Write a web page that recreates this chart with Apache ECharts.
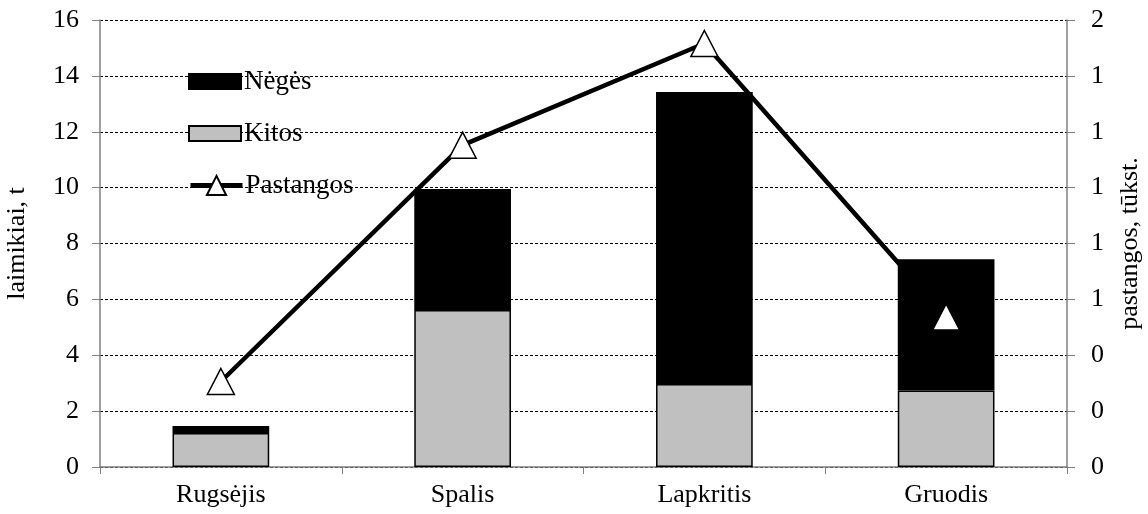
<!DOCTYPE html>
<html>
<head>
<meta charset="utf-8">
<script src="https://cdn.jsdelivr.net/npm/echarts@6/dist/echarts.min.js"></script>
<style>
  html, body { margin: 0; padding: 0; background: #ffffff; }
  #chart { width: 1148px; height: 514px; }
</style>
</head>
<body>
<div id="chart"></div>
<script>
// Months
const months = ['Rugsėjis', 'Spalis', 'Lapkritis', 'Gruodis'];
// Catch, tonnes (stacked: other species at the bottom, lampreys on top)
const kitos = [1.22, 5.62, 2.97, 2.74];
const neges = [0.25, 4.33, 10.45, 4.70];
// Fishing effort, thousands
const pastangos = [0.306, 1.152, 1.516, 0.537];

const FONT = '"Liberation Serif", "Times New Roman", serif';
const chart = echarts.init(document.getElementById('chart'), null, { renderer: 'canvas' });

const legendText = { fontFamily: FONT, fontSize: 27, color: '#000', padding: [0, 0, 0, -2] };

chart.setOption({
  animation: false,
  textStyle: { fontFamily: FONT, color: '#000' },
  grid: { left: 100, right: 81, top: 20, bottom: 47, outerBoundsMode: 'none', containLabel: false },
  legend: [
    {
      orient: 'vertical',
      left: 183,
      top: 63,
      itemWidth: 52,
      itemHeight: 15,
      itemGap: 25,
      textStyle: legendText,
      data: [
        { name: 'Nėgės', icon: 'rect' },
        { name: 'Kitos', icon: 'rect' }
      ]
    },
    {
      orient: 'vertical',
      left: 183,
      top: 167,
      itemWidth: 52,
      itemHeight: 24,
      textStyle: legendText,
      data: [{ name: 'Pastangos', lineStyle: { width: 5 } }]
    }
  ],
  xAxis: {
    type: 'category',
    data: months,
    axisLine: { lineStyle: { color: '#808080', width: 1.5 } },
    axisTick: { show: true, length: 7, lineStyle: { color: '#808080' } },
    axisLabel: { fontFamily: FONT, fontSize: 26, color: '#000', margin: 15 }
  },
  yAxis: [
    {
      type: 'value',
      min: 0, max: 16, interval: 2,
      name: 'laimikiai, t',
      nameLocation: 'middle',
      nameGap: 70,
      nameTextStyle: { fontFamily: FONT, fontSize: 26, color: '#000' },
      axisLine: { show: true, lineStyle: { color: '#808080', width: 1.5 } },
      axisTick: { show: true, length: 8, lineStyle: { color: '#808080' } },
      axisLabel: { fontFamily: FONT, fontSize: 26, color: '#000', margin: 21 },
      splitLine: { show: true, lineStyle: { color: '#000', type: [3, 2], width: 1 } }
    },
    {
      type: 'value',
      min: 0, max: 1.6, interval: 0.2,
      position: 'right',
      name: 'pastangos, tūkst.',
      nameLocation: 'middle',
      nameGap: 50,
      nameRotate: 90,
      nameTextStyle: { fontFamily: FONT, fontSize: 26, color: '#000' },
      axisLine: { show: true, lineStyle: { color: '#808080', width: 1.5 } },
      axisTick: { show: true, length: 8, lineStyle: { color: '#808080' } },
      axisLabel: {
        fontFamily: FONT, fontSize: 26, color: '#000', margin: 24,
        formatter: v => String(Math.round(v))
      },
      splitLine: { show: false }
    }
  ],
  series: [
    {
      name: 'Kitos',
      type: 'bar',
      stack: 'catch',
      data: kitos,
      barWidth: '40%',
      itemStyle: { color: '#c0c0c0', borderColor: '#000', borderWidth: 1.5 },
      z: 2
    },
    {
      name: 'Nėgės',
      type: 'bar',
      stack: 'catch',
      data: neges,
      barWidth: '40%',
      itemStyle: { color: '#000', borderColor: '#000', borderWidth: 1.5 },
      z: 2
    },
    {
      name: 'Pastangos',
      type: 'line',
      yAxisIndex: 1,
      data: pastangos,
      symbol: 'triangle',
      symbolSize: [27, 26],
      showAllSymbol: true,
      lineStyle: { color: '#000', width: 4.5 },
      itemStyle: { color: '#fff', borderColor: '#000', borderWidth: 1.5 },
      z: 3
    }
  ]
});
</script>
</body>
</html>
